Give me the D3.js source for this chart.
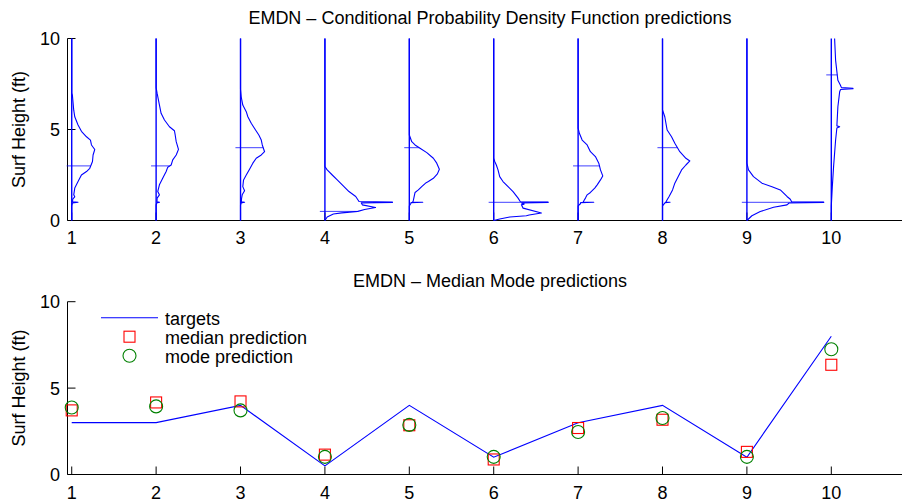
<!DOCTYPE html>
<html>
<head>
<meta charset="utf-8">
<script src="https://cdn.jsdelivr.net/npm/d3@7"></script>
<style>
  html, body { margin: 0; padding: 0; background: #fff; }
  svg { display: block; }
  text { font-family: "Liberation Sans", Arial, Helvetica, sans-serif; fill: #000; }
</style>
</head>
<body>
<svg id="chart" width="902" height="502"></svg>
<script>
// ---------------- DATA ----------------
const categories = [1, 2, 3, 4, 5, 6, 7, 8, 9, 10];
const xTickLabels = ["1", "2", "3", "4", "5", "6", "7", "8", "9", "10"];
const yTickValues = [0, 5, 10];
const targets = [3, 3, 4, 0.5, 4, 1, 3, 4, 1, 8];
const medianPred = [3.71, 4.17, 4.23, 1.15, 2.85, 0.87, 2.69, 3.17, 1.31, 6.35];
const modePred = [3.88, 3.94, 3.71, 1.02, 2.87, 1.02, 2.46, 3.27, 1.02, 7.25];

// conditional pdf per case: [surf height (ft), pdf width (x units)]
const pdf1 = [[10,0],[7,0],[6.88,0.008],[6.06,0.024],[5.7,0.036],[5.25,0.075],[4.9,0.115],[4.6,0.175],[4.42,0.222],[4.15,0.234],[3.9,0.273],[3.6,0.253],[3.24,0.246],[2.87,0.214],[2.69,0.175],[2.5,0.115],[2.14,0.075],[1.78,0.036],[1.41,0.024],[1.3,0.036],[1.18,0.012],[1.03,0.01],[1.0,0.075],[0.97,0.01],[0.92,0.006],[0.8,0],[0,0]];
const pdf2 = [[10,0],[7.3,0],[6.98,0.012],[6.35,0.039],[5.89,0.059],[5.52,0.099],[5.15,0.158],[4.93,0.217],[4.7,0.226],[4.33,0.238],[3.91,0.265],[3.6,0.238],[3.33,0.197],[3.05,0.178],[2.93,0.138],[2.69,0.119],[2.32,0.078],[1.96,0.039],[1.59,0.019],[1.41,0.039],[1.23,0.012],[1.03,0.01],[1.0,0.04],[0.97,0.008],[0.85,0],[0,0]];
const pdf3 = [[10,0],[7.2,0],[6.8,0.008],[6.34,0.027],[5.98,0.068],[5.7,0.087],[5.34,0.127],[4.97,0.178],[4.7,0.217],[4.42,0.246],[4.15,0.258],[3.78,0.285],[3.6,0.246],[3.42,0.186],[3.15,0.146],[2.82,0.107],[2.5,0.068],[2.23,0.036],[1.86,0.027],[1.63,0.048],[1.41,0.02],[1.2,0.012],[1.03,0.01],[1.0,0.048],[0.97,0.008],[0.85,0],[0,0]];
const pdf4 = [[10,0],[2.96,0],[2.78,0.027],[2.5,0.087],[2.23,0.146],[1.86,0.226],[1.59,0.285],[1.32,0.365],[1.04,0.404],[1.015,0.8],[0.995,0.8],[0.97,0.43],[0.86,0.443],[0.71,0.6],[0.6,0.47],[0.5,0.39],[0.42,0.2],[0.36,0.1],[0.19,0.027],[0,0]];
const pdf5 = [[10,0],[4.7,0],[4.33,0.029],[4.15,0.068],[3.97,0.127],[3.73,0.207],[3.42,0.285],[3.15,0.325],[2.82,0.356],[2.56,0.333],[2.32,0.285],[2.14,0.226],[2.08,0.2],[2.04,0.19],[1.86,0.147],[1.68,0.107],[1.54,0.068],[1.28,0.056],[1.1,0.048],[1.02,0.04],[1.0,0.159],[0.98,0.02],[0.95,0.02],[0.8,0],[0,0]];
const pdf6 = [[10,0],[3.42,0],[3.24,0.012],[3.05,0.031],[2.78,0.051],[2.41,0.071],[2.14,0.11],[1.86,0.17],[1.59,0.229],[1.23,0.289],[1.03,0.316],[1.01,0.645],[0.99,0.645],[0.96,0.33],[0.9,0.36],[0.86,0.328],[0.68,0.348],[0.41,0.565],[0.3,0.42],[0.26,0.387],[0.19,0.19],[0.08,0.071],[0,0]];
const pdf7 = [[10,0],[5.07,0],[4.79,0.015],[4.42,0.048],[4.15,0.107],[3.78,0.146],[3.51,0.205],[3.15,0.245],[2.78,0.265],[2.45,0.292],[2.23,0.265],[1.96,0.226],[1.78,0.197],[1.54,0.146],[1.41,0.107],[1.23,0.087],[1.1,0.07],[1.02,0.06],[1.0,0.185],[0.98,0.03],[0.92,0.027],[0.8,0],[0,0]];
const pdf8 = [[10,0],[6.07,0],[5.7,0.027],[4.97,0.055],[4.6,0.107],[4.24,0.146],[3.78,0.205],[3.42,0.277],[3.27,0.324],[3.05,0.277],[2.78,0.226],[2.41,0.185],[2.05,0.146],[1.68,0.119],[1.32,0.078],[1.1,0.05],[1.02,0.04],[1.0,0.09],[0.98,0.03],[0.95,0.027],[0.8,0],[0,0]];
const pdf9 = [[10,0],[3.15,0],[2.78,0.019],[2.41,0.078],[2.05,0.178],[1.86,0.297],[1.68,0.396],[1.32,0.475],[1.17,0.514],[1.03,0.53],[1.01,0.91],[0.99,0.91],[0.96,0.5],[0.86,0.475],[0.73,0.316],[0.49,0.158],[0.26,0.059],[0,0]];
const pdf10 = [[10,0.039],[8.8,0.051],[7.7,0.078],[7.44,0.107],[7.3,0.12],[7.27,0.257],[7.24,0.257],[7.2,0.11],[7.07,0.099],[6.25,0.078],[5.2,0.066],[5.15,0.099],[5.08,0.066],[4.42,0.051],[2.96,0.027],[1.86,0.012],[0.8,0],[0,0]];
const pdfs = [pdf1, pdf2, pdf3, pdf4, pdf5, pdf6, pdf7, pdf8, pdf9, pdf10];

const titleTop = "EMDN \u2013 Conditional Probability Density Function predictions";
const titleBottom = "EMDN \u2013 Median Mode predictions";
const yLabel = "Surf Height (ft)";
const legendLabels = ["targets", "median prediction", "mode prediction"];

// ---------------- LAYOUT ----------------
const svg = d3.select("#chart");
const BLUE = "#0000ff", RED = "#ff0000", GREEN = "#008000";
const FS = 18;
const tickLen = 8;

const x = d3.scaleLinear().domain([0.95, 11]).range([67.5, 915.7]);

const panels = [
  { top: 38.5, bottom: 220.5, title: titleTop, titleY: 24, tickY: 243.5 },
  { top: 301.7, bottom: 474.5, title: titleBottom, titleY: 287.3, tickY: 498.5 }
];

function drawAxes(p) {
  const y = d3.scaleLinear().domain([0, 10]).range([p.bottom, p.top]);
  const g = svg.append("g");
  // axis lines
  g.append("line").attr("x1", x.range()[0]).attr("x2", 902).attr("y1", p.bottom).attr("y2", p.bottom)
    .attr("stroke", "#000").attr("stroke-width", 1);
  g.append("line").attr("x1", x.range()[0]).attr("x2", x.range()[0]).attr("y1", p.top).attr("y2", p.bottom)
    .attr("stroke", "#000").attr("stroke-width", 1);
  // x ticks (inward)
  categories.forEach((c, i) => {
    g.append("line").attr("x1", x(c)).attr("x2", x(c)).attr("y1", p.bottom).attr("y2", p.bottom - tickLen)
      .attr("stroke", "#000").attr("stroke-width", 1);
    g.append("text").attr("x", x(c)).attr("y", p.tickY).attr("text-anchor", "middle")
      .attr("font-size", FS).text(xTickLabels[i]);
  });
  // y ticks (inward)
  yTickValues.forEach(v => {
    g.append("line").attr("x1", x.range()[0]).attr("x2", x.range()[0] + tickLen).attr("y1", y(v)).attr("y2", y(v))
      .attr("stroke", "#000").attr("stroke-width", 1);
    g.append("text").attr("x", 60).attr("y", y(v)).attr("dy", "0.36em").attr("text-anchor", "end")
      .attr("font-size", FS).text(String(v));
  });
  // title
  g.append("text").attr("x", 490).attr("y", p.titleY).attr("text-anchor", "middle")
    .attr("font-size", FS).text(p.title);
  // y label
  g.append("text").attr("transform", `translate(24.5,${(p.top + p.bottom) / 2}) rotate(-90)`)
    .attr("text-anchor", "middle").attr("font-size", FS).text(yLabel);
  return y;
}

// ---------------- TOP PANEL ----------------
const yTop = drawAxes(panels[0]);

function pdfAt(pdf, h) {
  // linear interpolation of pdf width at height h
  for (let k = 0; k < pdf.length - 1; k++) {
    const a = pdf[k], b = pdf[k + 1];
    if ((h <= a[0] && h >= b[0])) {
      if (a[0] === b[0]) return Math.max(a[1], b[1]);
      const t = (a[0] - h) / (a[0] - b[0]);
      return a[1] + t * (b[1] - a[1]);
    }
  }
  return 0;
}

const topG = svg.append("g");
categories.forEach((c, i) => {
  // baseline
  topG.append("line").attr("x1", x(c)).attr("x2", x(c)).attr("y1", yTop(0)).attr("y2", yTop(10))
    .attr("stroke", BLUE).attr("stroke-width", 1.4);
  // pdf curve
  const line = d3.line().x(d => x(c + d[1])).y(d => yTop(d[0]));
  topG.append("path").attr("d", line(pdfs[i])).attr("fill", "none")
    .attr("stroke", BLUE).attr("stroke-width", 1.1).attr("stroke-linejoin", "round");
  // target marker line
  const t = targets[i];
  topG.append("line").attr("x1", x(c - 0.06)).attr("x2", x(c + pdfAt(pdfs[i], t)))
    .attr("y1", yTop(t)).attr("y2", yTop(t))
    .attr("stroke", BLUE).attr("stroke-width", 1).attr("stroke-opacity", 0.75);
});

// ---------------- BOTTOM PANEL ----------------
const yBot = drawAxes(panels[1]);
const botG = svg.append("g");

const tLine = d3.line().x((d, i) => x(categories[i])).y(d => yBot(d));
botG.append("path").attr("d", tLine(targets)).attr("fill", "none")
  .attr("stroke", BLUE).attr("stroke-width", 1.1);

const SQ = 11;
botG.selectAll("rect.med").data(medianPred).enter().append("rect")
  .attr("x", (d, i) => x(categories[i]) - SQ / 2).attr("y", d => yBot(d) - SQ / 2)
  .attr("width", SQ).attr("height", SQ)
  .attr("fill", "none").attr("stroke", RED).attr("stroke-width", 1.1);

botG.selectAll("circle.mode").data(modePred).enter().append("circle")
  .attr("cx", (d, i) => x(categories[i])).attr("cy", d => yBot(d)).attr("r", 6.5)
  .attr("fill", "none").attr("stroke", GREEN).attr("stroke-width", 1.1);

// legend
const legRows = [317.7, 336.7, 355.7];
const legG = svg.append("g");
legG.append("line").attr("x1", 101).attr("x2", 158).attr("y1", legRows[0]).attr("y2", legRows[0])
  .attr("stroke", BLUE).attr("stroke-width", 1.1);
legG.append("rect").attr("x", 129.5 - SQ / 2).attr("y", legRows[1] - SQ / 2).attr("width", SQ).attr("height", SQ)
  .attr("fill", "none").attr("stroke", RED).attr("stroke-width", 1.1);
legG.append("circle").attr("cx", 129.5).attr("cy", legRows[2]).attr("r", 6.5)
  .attr("fill", "none").attr("stroke", GREEN).attr("stroke-width", 1.1);
legendLabels.forEach((l, i) => {
  legG.append("text").attr("x", 165).attr("y", legRows[i] + 7).attr("font-size", FS).text(l);
});
</script>
</body>
</html>
